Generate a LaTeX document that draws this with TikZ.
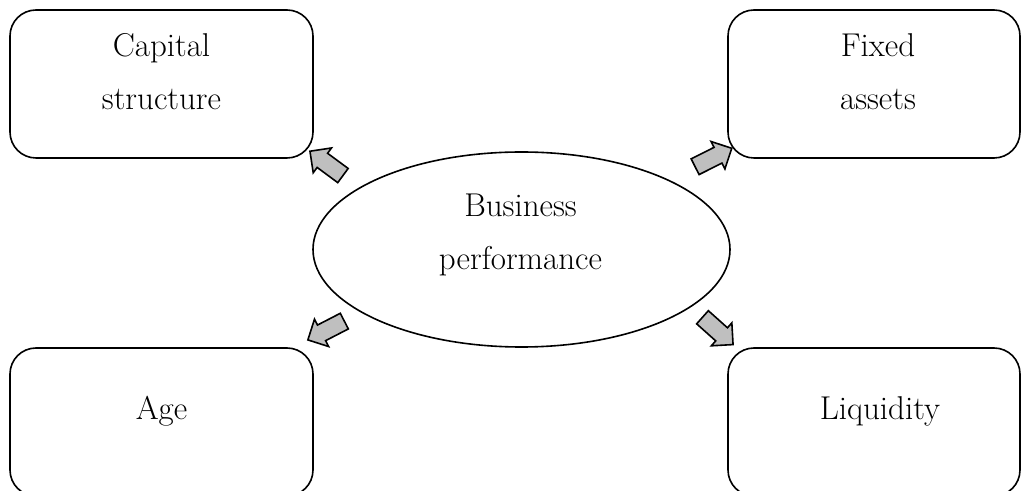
\documentclass[tikz,border=0pt]{standalone}
\usetikzlibrary{shapes.geometric,shapes.arrows}
\newcommand{\lbl}{\fontsize{16.5}{26.5}\selectfont}

\begin{document}
\begin{tikzpicture}[x=0.5pt,y=-0.5pt,
   box/.style={draw,line width=0.8pt,rounded corners=13pt,
     minimum width=151.5pt,minimum height=74pt},
   txt/.style={font=\lbl,align=center,anchor=base,inner sep=0pt},
   blk/.style={single arrow,draw,line width=0.8pt,fill=black!25,
     inner sep=4pt,single arrow head extend=3.3pt,minimum height=20.5pt}]
   \useasboundingbox (0,0) rectangle (1023,491);
   \clip (0,0) rectangle (1023,491);
   \node[box] (capital) at (161.5,84) {};
   \node[box,minimum width=146pt] (fixed) at (874,84) {};
   \node[box] (age) at (161.5,422) {};
   \node[box,minimum width=146pt] (liquidity) at (874,422) {};
   \node[draw,ellipse,line width=0.8pt,minimum width=208.5pt,
     minimum height=97.5pt,inner sep=0pt] (business) at (521.5,249.5) {};
   \node[txt] (captxt) at (161.5,110) {Capital\\structure};
   \node[txt] (fixtxt) at (878,110) {Fixed\\assets};
   \node[txt] (bustxt) at (520.5,270) {Business\\performance};
   \node[txt] (agetxt) at (161.5,420) {Age};
   \node[txt] (liqtxt) at (880,420) {Liquidity};
   \node[blk,rotate=143.6] (tocap) at (330,166) {};
   \node[blk,rotate=26.7] (tofix) at (709.5,159.5) {};
   \node[blk,rotate=207.3] (toage) at (330,328.5) {};
   \node[blk,rotate=-41.8] (toliq) at (714.5,328) {};
\end{tikzpicture}
\end{document}
